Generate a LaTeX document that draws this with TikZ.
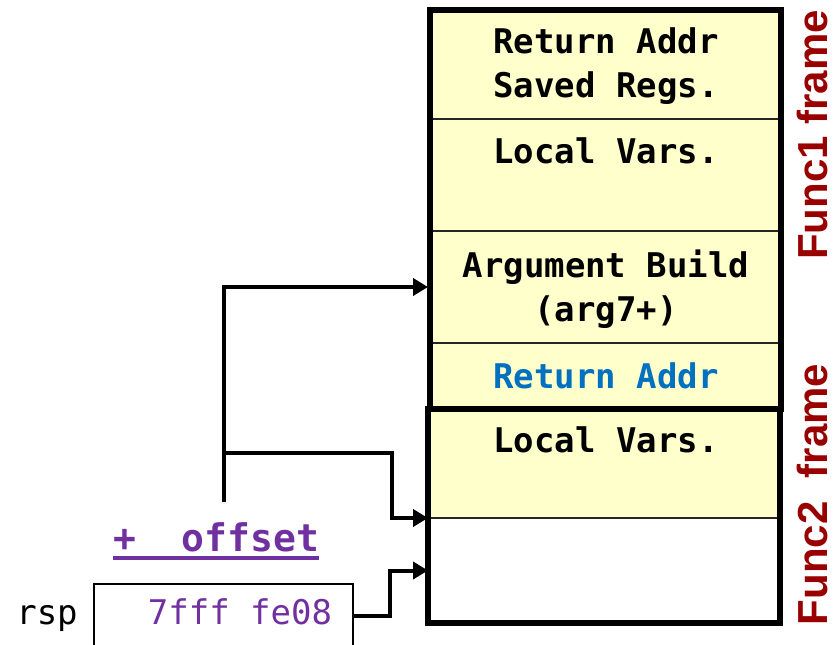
\documentclass[tikz,border=0pt]{standalone}
\usepackage{fontspec}
\setmonofont{DejaVu Sans Mono}
\newfontfamily\framefont{Liberation Sans}
\usetikzlibrary{arrows.meta}
\definecolor{cellfill}{RGB}{255,255,204}
\definecolor{framered}{RGB}{153,0,0}
\definecolor{regpurple}{RGB}{112,48,160}
\definecolor{addrblue}{RGB}{0,112,192}

\begin{document}
\begin{tikzpicture}[x=1pt,y=-1pt,
  cell/.style={draw=black!85, line width=1.5pt, fill=cellfill, minimum width=352pt,
               inner sep=0pt, outer sep=0pt},
  blankcell/.style={cell, fill=white},
  framebox/.style={draw=black, line width=6pt},
  celltext/.style={font=\ttfamily\bfseries\fontsize{34}{44}\selectfont, anchor=base, inner sep=0pt},
  regtext/.style={font=\ttfamily\fontsize{34}{40}\selectfont, anchor=base, inner sep=0pt},
  framelabel/.style={font=\framefont\bfseries\fontsize{42}{50}\selectfont, text=framered,
                     rotate=90, inner sep=0pt},
  conn/.style={draw=black, line width=4pt, line join=miter,
               -{Triangle[length=15pt 0 1,width=17pt 0 1]}, shorten >=1pt},
  wire/.style={draw=black, line width=4pt}
]
\useasboundingbox (0,0) rectangle (836,645);

% stack cells, top (high addresses) to bottom
\node[cell, minimum height=109pt] (ra1) at (605,64.5) {};
\node[cell, minimum height=112pt] (lv1) at (605,175) {};
\node[cell, minimum height=112pt] (arg) at (605,287) {};
\node[cell, minimum height=66pt]  (ra2) at (605,376) {};
\node[cell, minimum height=109pt] (lv2) at (605,463.5) {};
\node[blankcell, minimum height=105pt] (free) at (605,570.5) {};

% frame outlines
\draw[framebox] (429.5,10) rectangle (781,409);
\draw[framebox] (427.5,409) rectangle (780,623);

% cell contents
\node[celltext] (t1a) at (606,53)  {Return Addr};
\node[celltext] (t1b) at (606,97)  {Saved Regs.};
\node[celltext] (t2)  at (606,163) {Local Vars.};
\node[celltext] (t3a) at (606,277) {Argument Build};
\node[celltext] (t3b) at (606,321) {(arg7+)};
\node[celltext, text=addrblue] (t4) at (606,388) {Return Addr};
\node[celltext] (t5)  at (606,452) {Local Vars.};

% frame labels
\node[framelabel] (f1) at (812,135)   {Func1 frame};
\node[framelabel] (f2) at (812,494.5) {Func2~~frame};

% register and offset
\node[regtext] (rsp) at (47,624) {rsp};
\node[draw=black, line width=1.5pt, minimum width=259pt, minimum height=64pt,
      anchor=north west, inner sep=0pt] (reg) at (93,583) {};
\node[regtext, text=regpurple] (val) at (240,624) {7fff fe08};
\node[font=\ttfamily\bfseries\fontsize{38}{44}\selectfont, text=regpurple,
      anchor=base, inner sep=0pt] (off) at (216,551) {+~~offset};
\draw[regpurple, line width=3.5pt] ([yshift=-7pt]off.base west) -- ([yshift=-7pt]off.base east);

% connectors
\coordinate (trunk) at (224,502);
\coordinate (branch) at (224,453);
\coordinate (bend) at (392,453);
\draw[conn] (trunk) |- (arg.west);
\draw[conn] (branch) -- (bend) |- (lv2.south west);
\draw[conn] (reg.east) -- ++(36,0) |- (free.west);
\end{tikzpicture}
\end{document}
